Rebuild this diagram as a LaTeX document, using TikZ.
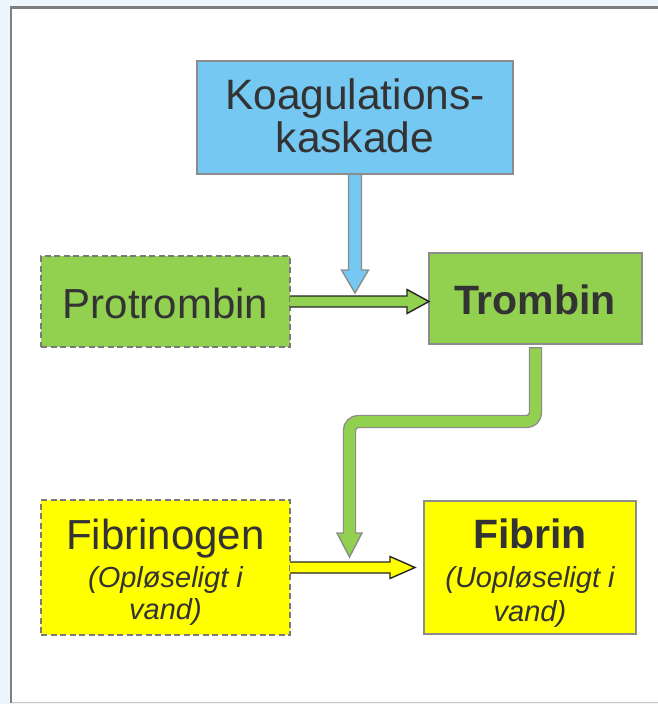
\documentclass[tikz,border=0pt]{standalone}
\usepackage{fontspec}
\setmainfont{Liberation Sans}
\usetikzlibrary{calc}
\definecolor{pagebg}{HTML}{EDF6FC}
\definecolor{framegray}{HTML}{7F7F7F}
\definecolor{framelight}{HTML}{C8C8C8}
\definecolor{boxgray}{HTML}{8C8C8C}
\definecolor{dashgray}{HTML}{7A7A7A}
\definecolor{skyblue}{HTML}{75C8F2}
\definecolor{leafgreen}{HTML}{92D050}
\definecolor{lemon}{HTML}{FFFF00}
\definecolor{ink}{HTML}{333333}
\definecolor{arrowink}{HTML}{262626}
\tikzset{
  box/.style={draw=boxgray, line width=1.4pt, inner sep=0pt, outer sep=0pt},
  dashbox/.style={box, draw=dashgray, line width=1.6pt, dash pattern=on 6pt off 3.5pt},
  bigtxt/.style={text=ink, inner sep=0pt, anchor=base, font=\fontsize{42}{42}\selectfont},
  midtxt/.style={text=ink, inner sep=0pt, anchor=base, font=\fontsize{42.5}{42.5}\selectfont},
  smalltxt/.style={text=ink, inner sep=0pt, anchor=base, font=\fontsize{29}{29}\selectfont\itshape},
  darkarrow/.style={draw=arrowink, line width=1.4pt, line join=miter},
  grayarrow/.style={draw=boxgray, line width=1.4pt, line join=miter},
}
\begin{document}
\begin{tikzpicture}[x=1pt, y=-1pt]
  % page and frame
  \fill[pagebg] (0,0) rectangle (658,704);
  \useasboundingbox (0,0) rectangle (658,704);
  \fill[white] (11,7) rectangle (660,702);
  \draw[framelight, line width=1.5pt] (11,702.5) -- (660,702.5);
  \draw[framegray, line width=2.4pt] (11,703) -- (11,7.5) -- (660,7.5);

  % boxes
  \node[box, fill=skyblue, minimum width=316pt, minimum height=113pt] (koag) at (355,117.5) {};
  \node[dashbox, fill=leafgreen, minimum width=249pt, minimum height=91pt] (proto) at (165.5,301.5) {};
  \node[box, fill=leafgreen, minimum width=213pt, minimum height=91pt] (trombin) at (535.5,298.5) {};
  \node[dashbox, fill=lemon, minimum width=249pt, minimum height=135pt] (fibrinogen) at (165.5,567.5) {};
  \node[box, fill=lemon, minimum width=212pt, minimum height=133pt] (fibrin) at (530,567.5) {};

  % labels
  \node[midtxt] (koagA) at (355,109) {Koagulations-};
  \node[midtxt] (koagB) at (355,152) {kaskade};
  \node[bigtxt] (protoT) at (165.5,318) {Protrombin};
  \node[bigtxt, font=\fontsize{41}{41}\selectfont\bfseries] (trombinT) at (535,314) {Trombin};
  \node[bigtxt] (fibrinogenA) at (165.5,549) {Fibrinogen};
  \node[smalltxt] (fibrinogenB) at (165.5,587) {(Opløseligt i};
  \node[smalltxt] (fibrinogenC) at (165.5,619) {vand)};
  \node[bigtxt, font=\fontsize{41}{41}\selectfont\bfseries] (fibrinA) at (530,548) {Fibrin};
  \node[smalltxt] (fibrinB) at (530,587) {(Uopløseligt i};
  \node[smalltxt] (fibrinC) at (530,621) {vand)};

  % Protrombin -> Trombin
  \coordinate (gTip) at (trombin.west |- proto.east);
  \draw[darkarrow, fill=leafgreen]
    ($(proto.east)+(0,-5.5)$) -- ($(gTip)+(-22,-5.5)$) -- ($(gTip)+(-22,-12)$)
    -- (gTip) -- ($(gTip)+(-22,12)$) -- ($(gTip)+(-22,5.5)$) -- ($(proto.east)+(0,5.5)$);

  % Koagulationskaskade -> reaction arrow
  \coordinate (bTip) at (355,293);
  \draw[grayarrow, fill=skyblue]
    ($(koag.south)+(-6.5,1)$) -- ($(bTip)+(-6.5,-23)$) -- ($(bTip)+(-13.5,-23)$)
    -- (bTip) -- ($(bTip)+(13.5,-23)$) -- ($(bTip)+(6.5,-23)$) -- ($(koag.south)+(6.5,1)$);

  % Fibrinogen -> Fibrin
  \coordinate (yTip) at ($(fibrin.west)+(-9,0)$);
  \draw[darkarrow, fill=lemon]
    ($(fibrinogen.east)+(0,-5.5)$) -- ($(yTip)+(-25,-5.5)$) -- ($(yTip)+(-25,-11)$)
    -- (yTip) -- ($(yTip)+(-25,11)$) -- ($(yTip)+(-25,5.5)$) -- ($(fibrinogen.east)+(0,5.5)$);

  % Trombin -> reaction arrow (bent)
  \coordinate (tStart) at ($(trombin.south)+(0,3)$);
  \coordinate (tTip) at (349.5,557);
  \coordinate (tBase) at ($(tTip)+(0,-24)$);
  \coordinate (tTurn) at (0,421.5);
  \fill[leafgreen] ($(tBase)+(-12.5,0)$) -- (tTip) -- ($(tBase)+(12.5,0)$) -- cycle;
  \draw[grayarrow] ($(tBase)+(-6,0)$) -- ($(tBase)+(-12.5,0)$) -- (tTip) -- ($(tBase)+(12.5,0)$) -- ($(tBase)+(6,0)$);
  \draw[boxgray, line width=13.4pt, rounded corners=9pt]
    (tStart) -- (tStart |- tTurn) -- (tTip |- tTurn) -- (tBase);
  \draw[leafgreen, line width=10.6pt, rounded corners=9pt]
    ($(tStart)+(0,1.4)$) -- (tStart |- tTurn) -- (tTip |- tTurn) -- ($(tBase)+(0,1)$);
\end{tikzpicture}
\end{document}
